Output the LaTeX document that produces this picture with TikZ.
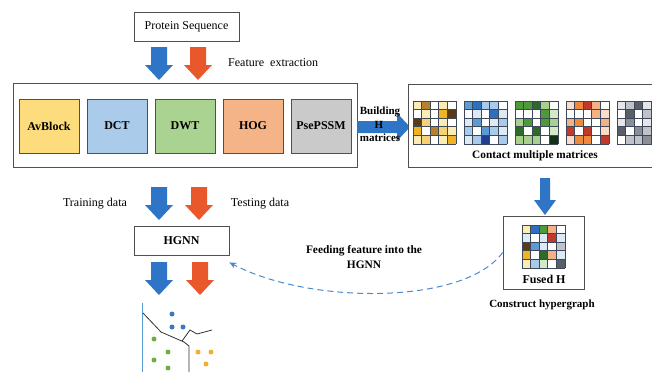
\documentclass[tikz,border=0pt]{standalone}
\usepackage{fontspec}
\setmainfont{Liberation Serif}
\usetikzlibrary{arrows.meta,calc}

% block arrow colours
\definecolor{arrblue}{HTML}{2E75C8}
\definecolor{arrorange}{HTML}{E8582A}
\definecolor{dashblue}{HTML}{4A8AC8}
% feature box fills
\definecolor{avfill}{HTML}{FCDC7C}
\definecolor{dctfill}{HTML}{ABCBEA}
\definecolor{dwtfill}{HTML}{AAD291}
\definecolor{hogfill}{HTML}{F5B487}
\definecolor{psefill}{HTML}{CACACA}
\definecolor{boxline}{HTML}{505050}
\definecolor{gridln}{HTML}{3E4858}
% matrix cell palettes
\definecolor{W}{HTML}{FFFFFF}
\definecolor{Y1}{HTML}{FBEBB5}
\definecolor{Y2}{HTML}{F5D275}
\definecolor{Y3}{HTML}{F0B323}
\definecolor{Y4}{HTML}{B8802E}
\definecolor{Y5}{HTML}{5C3A12}
\definecolor{B1}{HTML}{DCEAF7}
\definecolor{B2}{HTML}{A9CBEB}
\definecolor{B3}{HTML}{5B9BD5}
\definecolor{B4}{HTML}{2E6FC0}
\definecolor{B5}{HTML}{1F3F8F}
\definecolor{G1}{HTML}{D5E8C8}
\definecolor{G2}{HTML}{A9D18E}
\definecolor{G3}{HTML}{4E9A3A}
\definecolor{G4}{HTML}{2E6B2A}
\definecolor{G5}{HTML}{13301A}
\definecolor{O1}{HTML}{FBDCC8}
\definecolor{O2}{HTML}{F4B183}
\definecolor{O3}{HTML}{EE8A3E}
\definecolor{O4}{HTML}{C0392B}
\definecolor{K1}{HTML}{E6E6EA}
\definecolor{K2}{HTML}{BFC2C8}
\definecolor{K3}{HTML}{8A8E96}
\definecolor{K4}{HTML}{5A5E68}
\definecolor{dotblue}{HTML}{3A78C0}
\definecolor{dotgreen}{HTML}{70AD47}
\definecolor{dotorange}{HTML}{F0B030}

% downward block arrow: x centre, y top, y tip, colour
\newcommand\downblock[4]{%
  \fill[#4] ({#1-8},#2) -- ({#1+8},#2) -- ({#1+8},{#3-15}) -- ({#1+14},{#3-15})
    -- (#1,#3) -- ({#1-14},{#3-15}) -- ({#1-8},{#3-15}) -- cycle;}

% 5x5 incidence grid: left x, top y, 25 cell colours
\newcommand\cellgrid[3]{%
  \foreach \cl [count=\i from 0] in {#3} {
    \pgfmathtruncatemacro\rr{\i/5}
    \pgfmathtruncatemacro\cc{\i-5*\rr}
    \fill[\cl] ({#1+\cc*8.6},{#2+\rr*8.6}) rectangle ++(8.6,8.6);
  }
  \foreach \k in {0,...,5} {
    \draw[gridln, line width=0.7pt] ({#1+\k*8.6},#2) -- ++(0,43);
    \draw[gridln, line width=0.7pt] (#1,{#2+\k*8.6}) -- ++(43,0);
  }}

\begin{document}
\begin{tikzpicture}[x=1pt, y=-1pt,
  lbl/.style={font=\fontsize{12}{14}\selectfont, inner sep=0},
  blbl/.style={font=\bfseries\fontsize{12}{14}\selectfont, inner sep=0},
  framebox/.style={draw=boxline, line width=0.8pt, fill=white},
  featbox/.style={draw=boxline, line width=0.8pt, minimum width=60, minimum height=54,
     font=\bfseries\fontsize{12}{14}\selectfont, inner sep=0},
  dot/.style={circle, inner sep=0, minimum size=5},
]
\clip (0,0) rectangle (652,372);
\fill[white] (0,0) rectangle (652,372);

% input sequence
\node[framebox, minimum width=105, minimum height=29, lbl] (seq) at (186.5,26.5) {Protein Sequence};
\downblock{159}{47}{80}{arrblue}
\downblock{198}{47}{80}{arrorange}
\node[lbl, anchor=west] (fe) at (228,63) {Feature\ \ extraction};

% feature extraction panel
\node[framebox, minimum width=344, minimum height=84, inner sep=0] (panel) at (185,125) {};
\node[featbox, fill=avfill]  (av)  at (49,126)  {AvBlock};
\node[featbox, fill=dctfill] (dct) at (117,126) {DCT};
\node[featbox, fill=dwtfill] (dwt) at (185,126) {DWT};
\node[featbox, fill=hogfill] (hog) at (253,126) {HOG};
\node[featbox, fill=psefill] (pse) at (321,126) {PsePSSM};

% building H matrices
\fill[arrblue] (357,121) -- (397,121) -- (397,113) -- (410,127) -- (397,141) -- (397,133) -- (357,133) -- cycle;
\node[font=\bfseries\fontsize{11}{13}\selectfont, inner sep=0] (bld) at (380,112) {Building};
\node[font=\bfseries\fontsize{11}{13}\selectfont, inner sep=0] (bh) at (379,125) {H};
\node[font=\bfseries\fontsize{11}{13}\selectfont, inner sep=0] (bm) at (380,138) {matrices};

% panel of hyperedge matrices
\draw[boxline, line width=0.8pt, fill=white] (408,84) rectangle (672,167);
\coordinate (mats) at (408,84);
\cellgrid{413}{101}{Y1,Y4,W,Y1,W, W,Y1,W,Y3,Y5, Y5,Y2,W,Y1,W, Y3,W,Y4,Y2,Y1, Y1,Y2,W,Y1,Y3}
\cellgrid{464}{101}{B3,B4,B2,B2,W, W,B1,W,B4,B1, B1,B3,W,B1,B2, B2,W,B3,B2,B1, B1,B2,B5,W,B2}
\cellgrid{515}{101}{G3,G3,G4,G2,W, W,W,W,G3,G1, G2,G3,W,G3,G2, G4,W,G4,W,G1, G2,G2,G2,W,G5}
\cellgrid{566}{101}{O1,O3,O4,O2,W, W,W,W,O2,O1, O2,O3,W,W,O2, O4,W,O4,W,O1, O1,O3,O3,W,O4}
\cellgrid{617}{101}{K1,K2,K4,K1,W, W,K4,W,K2,W, K1,K3,W,K1,K2, K4,W,K3,K2,K1, W,K2,K2,K3,W}
\node[font=\bfseries\fontsize{11.3}{13}\selectfont, inner sep=0] (contact) at (535,156) {Contact multiple matrices};

% fused incidence matrix
\fill[arrblue] (540,178) -- (550,178) -- (550,200) -- (556,200) -- (545,215) -- (534,200) -- (540,200) -- cycle;
\node[framebox, minimum width=81, minimum height=73, inner sep=0] (fused) at (543.5,252.5) {};
\cellgrid{522}{225}{Y1,B4,G3,O2,W, B1,W,B1,O4,B1, Y5,B3,B1,W,K2, Y3,W,G4,O2,B1, Y1,B2,G1,W,K4}
\node[blbl] (fusedlbl) at (544,279) {Fused H};
\node[font=\bfseries\fontsize{11}{13}\selectfont, inner sep=0] (hyper) at (542,305) {Construct hypergraph};

% classifier
\node[lbl] (train) at (95,204) {Training data};
\node[lbl] (test) at (260,204) {Testing data};
\downblock{159}{187}{220}{arrblue}
\downblock{199}{187}{220}{arrorange}
\node[framebox, minimum width=95, minimum height=29, blbl] (hgnn) at (181.5,240.5) {HGNN};
\downblock{159}{262}{295}{arrblue}
\downblock{200}{262}{295}{arrorange}

% feeding the fused features into the network
\node[align=center, inner sep=0, font=\bfseries\fontsize{11.4}{15}\selectfont] (feed) at (364,257) {Feeding feature into the\\HGNN};
\coordinate (hgnnin) at ($(hgnn.south east)+(0,7)$);
\draw[dashblue, line width=1pt, dash pattern=on 6pt off 4pt, -{Stealth[length=7pt,width=6pt]}]
  (fused.west) .. controls (465,305) and (310,305) .. (hgnnin);

% prediction space
\draw[B3, line width=1pt] (142,303) -- (142,372);
\draw[black!80, line width=0.8pt] (143,313) -- (161,332) -- (184,342) -- (189,346) -- (189,372);
\draw[black!80, line width=0.8pt] (182,341) -- (190,330) -- (197,334) -- (212,330);
\foreach \p in {(172,314),(172,327),(183,327)} \node[dot, fill=dotblue] at \p {};
\foreach \p in {(154,339),(168,352),(154,360),(168,368)} \node[dot, fill=dotgreen] at \p {};
\foreach \p in {(198,352),(211,352),(206,364)} \node[dot, fill=dotorange] at \p {};
\end{tikzpicture}
\end{document}
